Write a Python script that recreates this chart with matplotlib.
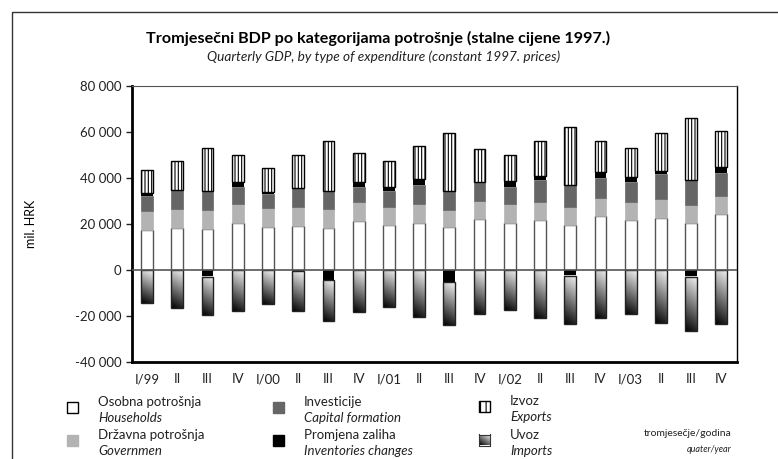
import numpy as np
import matplotlib
matplotlib.use('Agg')
import matplotlib.pyplot as plt
from matplotlib.patches import Rectangle
from matplotlib.ticker import FuncFormatter

plt.rcParams['font.family'] = ['Lato', 'DejaVu Sans']
plt.rcParams['hatch.linewidth'] = 0.8

quarters = ['I/99', 'II', 'III', 'IV', 'I/00', 'II', 'III', 'IV', 'I/01', 'II', 'III', 'IV',
            'I/02', 'II', 'III', 'IV', 'I/03', 'II', 'III', 'IV']
# mil. HRK
households = [17400, 18300, 17800, 20400, 18500, 19100, 18100, 21100, 19400, 20400,
              18500, 22000, 20600, 21900, 19700, 23500, 21700, 22700, 20400, 24300]
government = [8100, 8400, 8400, 8400, 8300, 8400, 8400, 8300, 8000, 8100,
              7700, 8100, 7900, 7800, 7700, 7900, 7700, 8000, 7700, 8000]
investment = [6500, 8200, 8000, 7500, 6100, 8000, 7700, 6900, 6800, 8600,
              8100, 8300, 7400, 9300, 9400, 8700, 8700, 10900, 10900, 9900]
inventories = [1300, 0, -2900, 1800, 1000, -600, -4300, 2100, 1900, 2600,
               -5200, 0, 2800, 1700, -2500, 2300, 2500, 1600, -3000, 2600]
exports = [10000, 12300, 18800, 12000, 10600, 14300, 22100, 12600, 11300, 14300,
           25400, 14000, 11100, 15200, 25200, 13900, 12400, 16500, 27000, 15500]
imports = [14300, 16700, 16800, 18000, 14700, 17100, 17700, 18400, 16100, 20400,
           18600, 19000, 17600, 21000, 21000, 21000, 19000, 23000, 23500, 23500]

fig = plt.figure(figsize=(7.78, 4.59), dpi=100, facecolor='white')
ax = fig.add_axes([132/778, 1-362/459, 604.5/778, 276/459])

x = np.arange(len(quarters))
w = 0.39
hh = np.array(households)
gv = np.array(government)
iv = np.array(investment)
inv = np.array(inventories)
ex = np.array(exports)
im = np.array(imports)

edge = '#555555'
ax.bar(x, hh, w, color='white', edgecolor=edge, linewidth=1, zorder=2)
ax.bar(x, gv, w, bottom=hh, color='#b3b3b3', edgecolor='#b3b3b3', linewidth=0.5, zorder=2)
ax.bar(x, iv, w, bottom=hh+gv, color='#666666', edgecolor='#666666', linewidth=0.5, zorder=2)
pos_inv = np.where(inv > 0, inv, 0)
neg_inv = np.where(inv < 0, inv, 0)
ax.bar(x, pos_inv, w, bottom=hh+gv+iv, color='black', linewidth=0, zorder=2)
ax.bar(x, ex, w, bottom=hh+gv+iv+pos_inv, color='white', edgecolor='black',
       hatch='|||||', linewidth=1, zorder=2)
ax.bar(x, neg_inv, w, color='black', linewidth=0, zorder=2)

# uvoz - gradient (red 0 = dno, tamno; gore svijetlo)
ty, tx = np.mgrid[0:1:60j, 0:1:20j]
grad = 0.85*ty + 0.15*tx
for xi, top, h in zip(x, neg_inv, im):
    ax.imshow(grad, cmap='gray', vmin=0.0, vmax=1.05, aspect='auto', origin='lower',
              extent=[xi-w/2, xi+w/2, top-h, top], zorder=2)
    ax.add_patch(Rectangle((xi-w/2, top-h), w, h, fill=False, edgecolor='#222222',
                           linewidth=1, zorder=3))

ax.axhline(0, color='#555555', linewidth=1.2, zorder=4)

ax.set_xlim(-0.5, len(quarters)-0.5)
ax.set_ylim(-40000, 80000)
ax.set_yticks(np.arange(-40000, 80001, 20000))
ax.yaxis.set_major_formatter(FuncFormatter(lambda v, p: f'{int(v):,}'.replace(',', ' ')))
ax.set_xticks(x)
ax.set_xticklabels(quarters)
ax.tick_params(axis='x', length=0, pad=8, labelsize=9.5, colors='#222222')
ax.tick_params(axis='y', length=4, width=1, labelsize=9.5, colors='#222222')
for s in ['left', 'bottom']:
    ax.spines[s].set_linewidth(2)
ax.spines['top'].set_color('#555555')
ax.spines['right'].set_linewidth(1)
ax.set_ylabel('mil. HRK', fontsize=9, labelpad=27)

fig.text(378/778, 1-38/459, 'Tromjesečni BDP po kategorijama potrošnje (stalne cijene 1997.)',
         ha='center', va='center', fontsize=11.6, fontweight='bold')
fig.text(384/778, 1-57/459, 'Quarterly GDP, by type of expenditure (constant 1997. prices)',
         ha='center', va='center', fontsize=9.8, style='italic', color='#222222')

# okvir
fig.patches.append(Rectangle((12/778, -0.1), 1.1, 1-12/459+0.1, transform=fig.transFigure,
                             fill=False, edgecolor='#333333', linewidth=1))

# legenda
leg = [
    (72, 407, 'Osobna potrošnja', 'Households', dict(facecolor='white', edgecolor='black')),
    (72, 440, 'Državna potrošnja', 'Governmen', dict(facecolor='#b3b3b3', edgecolor='#b3b3b3')),
    (278, 407, 'Investicije', 'Capital formation', dict(facecolor='#666666', edgecolor='#666666')),
    (278, 440, 'Promjena zaliha', 'Inventories changes', dict(facecolor='black', edgecolor='black')),
    (484, 406, 'Izvoz', 'Exports', dict(facecolor='white', edgecolor='black', hatch='|||')),
    (484, 440, 'Uvoz', 'Imports', None),
]
s = 11
for px, py, hr, en, st in leg:
    x0, y0 = (px - s/2)/778, 1-(py + s/2)/459
    if st is not None:
        fig.patches.append(Rectangle((x0, y0), s/778, s/459, transform=fig.transFigure,
                                     linewidth=1, **st))
    else:
        lax = fig.add_axes([x0, y0, s/778, s/459])
        lax.imshow(0.6*ty + 0.4*tx, cmap='gray', vmin=0.0, vmax=1.05, aspect='auto', origin='lower')
        lax.set_xticks([])
        lax.set_yticks([])
        for sp in lax.spines.values():
            sp.set_color('#333333')
    fig.text((px+26)/778, 1-(py-5)/459, hr, ha='left', va='center', fontsize=9.5, color='#222222')
    fig.text((px+26)/778, 1-(py+11)/459, en, ha='left', va='center', fontsize=9.5,
             style='italic', color='#222222')

fig.text(732/778, 1-434/459, 'tromjesečje/godina', ha='right', va='center', fontsize=7.5, color='#222222')
fig.text(732/778, 1-450/459, 'quater/year', ha='right', va='center', fontsize=6.5,
         style='italic', color='#222222')

fig.savefig('out.png', dpi=100, facecolor='white')
